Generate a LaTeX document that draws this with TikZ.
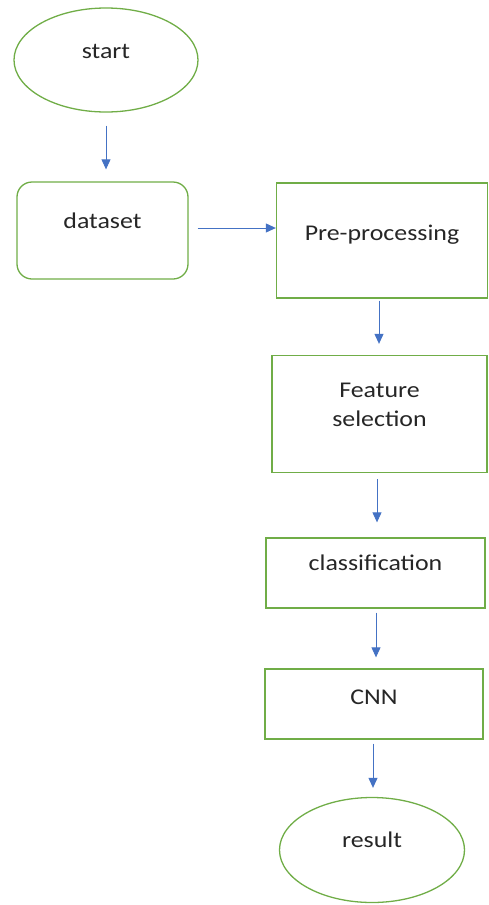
\documentclass[tikz,border=0pt]{standalone}
\usepackage{fontspec}
\setmainfont{Carlito}[FakeStretch=1.15]
\usetikzlibrary{shapes.geometric,arrows.meta}
\definecolor{boxgreen}{RGB}{112,173,71}
\definecolor{arrowblue}{RGB}{68,114,196}
\tikzset{
  lab/.style={font=\fontsize{22.5}{29}\selectfont, text=black!85, align=center},
  gbox/.style={draw=boxgreen, line width=1.3pt, rectangle, inner sep=0pt},
  goval/.style={draw=boxgreen, line width=1.3pt, ellipse, inner sep=0pt},
  flow/.style={draw=arrowblue, line width=0.9pt, -{Triangle[length=10pt,width=9pt]}, arrowblue}
}
\begin{document}
\begin{tikzpicture}[x=1pt,y=-1pt]
\useasboundingbox (0,0) rectangle (489,905);
\node[goval, minimum width=184pt, minimum height=104pt,
      label={[lab, yshift=9pt]center:start}] (start) at (106,60) {};
\node[gbox, rounded corners=15pt, minimum width=171pt, minimum height=97pt,
      label={[lab, yshift=10pt]center:dataset}] (dataset) at (102.5,230.5) {};
\node[gbox, minimum width=211pt, minimum height=115pt,
      label={[lab, yshift=6pt]center:Pre-processing}] (pre) at (382,240.5) {};
\node[gbox, minimum width=215pt, minimum height=117pt,
      label={[lab, yshift=9pt]center:Feature\\selection}] (feat) at (379.5,414) {};
\node[gbox, minimum width=219pt, minimum height=70pt,
      label={[lab, yshift=10pt]center:classification}] (cls) at (375.5,573) {};
\node[gbox, minimum width=218pt, minimum height=70pt,
      label={[lab, yshift=7pt]center:CNN}] (cnn) at (374,704) {};
\node[goval, minimum width=185pt, minimum height=105pt,
      label={[lab, yshift=10pt]center:result}] (result) at (372,850) {};

\draw[flow, shorten <=13pt, shorten >=12pt] (start.south) -- (start.south |- dataset.north);
\draw[flow, shorten <=9pt] ([yshift=2.5pt]dataset.east) -- ([yshift=2.5pt]dataset.east -| pre.west);
\draw[flow, shorten <=2pt, shorten >=11pt] ([xshift=-3pt]pre.south) -- ([xshift=-3pt]pre.south |- feat.north);
\draw[flow, shorten <=6pt, shorten >=15pt] ([xshift=-2.5pt]feat.south) -- ([xshift=-2.5pt]feat.south |- cls.north);
\draw[flow, shorten <=4pt, shorten >=11pt] ([xshift=0.5pt]cls.south) -- ([xshift=0.5pt]cls.south |- cnn.north);
\draw[flow, shorten <=4pt, shorten >=9pt] ([xshift=-1pt]cnn.south) -- ([xshift=-1pt]cnn.south |- result.north);
\end{tikzpicture}
\end{document}
